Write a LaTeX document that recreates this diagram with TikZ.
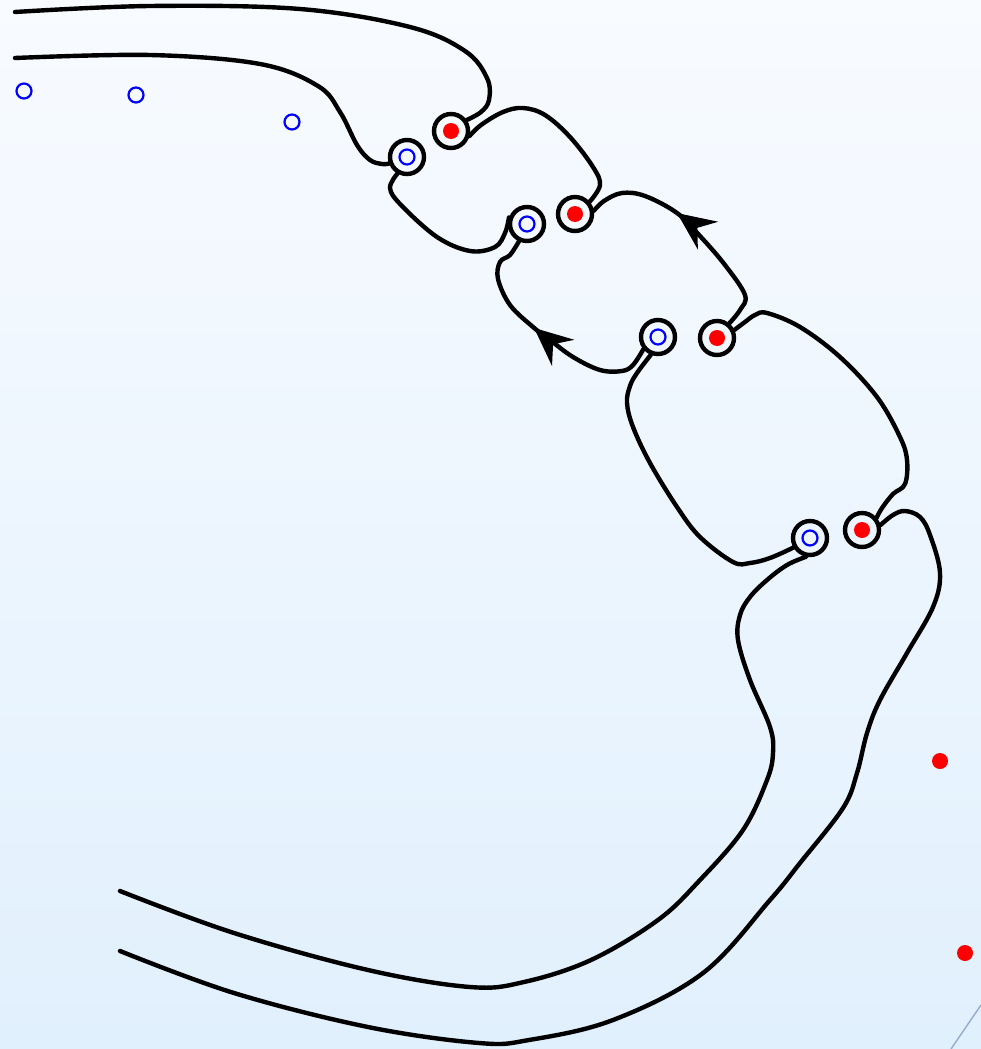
\documentclass[tikz,border=0pt]{standalone}
\usepackage{tikz}
\usetikzlibrary{arrows.meta, decorations.markings}
\definecolor{bgtop}{RGB}{248,251,255}
\definecolor{bgbottom}{RGB}{225,240,253}
\definecolor{edgeline}{RGB}{150,172,204}

\begin{document}
\begin{tikzpicture}[
    x=1pt, y=-1pt,
    wire/.style={draw=black, line width=4.4pt, line cap=round, line join=round},
    ringnode/.style={circle, draw=black, line width=4.4pt, minimum size=34pt, inner sep=0pt},
    bluedot/.style={circle, draw=blue, line width=2.2pt, minimum size=15pt, inner sep=0pt},
    reddot/.style={circle, fill=red, minimum size=16pt, inner sep=0pt},
    flow/.style={postaction={decorate}, decoration={markings,
        mark=at position #1 with {\arrow{Stealth[length=38pt, width=34pt, inset=13pt]}}}},
]

% Background
\useasboundingbox (0,0) rectangle (981,1049);
\shade[top color=bgtop, bottom color=bgbottom] (0,0) rectangle (981,1049);
\coordinate (e1) at (981,1005);
\coordinate (e2) at (951,1049);
\draw[edgeline, line width=1.4pt] (e1) -- (e2);

% Rings
\node[ringnode] (rr1) at (451,131) {};
\node[ringnode] (rr2) at (575,214) {};
\node[ringnode] (rr3) at (717,338) {};
\node[ringnode] (rr4) at (862,530) {};
\node[ringnode] (rb1) at (407,157) {};
\node[ringnode] (rb2) at (527,224) {};
\node[ringnode] (rb3) at (658,337) {};
\node[ringnode] (rb4) at (810,538) {};

% Charges
\node[reddot] (r1) at (rr1) {};
\node[reddot] (r2) at (rr2) {};
\node[reddot] (r3) at (rr3) {};
\node[reddot] (r4) at (rr4) {};
\node[reddot] (r5) at (940,761) {};
\node[reddot] (r6) at (965,953) {};
\node[bluedot] (b1) at (rb1) {};
\node[bluedot] (b2) at (rb2) {};
\node[bluedot] (b3) at (rb3) {};
\node[bluedot] (b4) at (rb4) {};
\node[bluedot] (b5) at (24,91) {};
\node[bluedot] (b6) at (136,95) {};
\node[bluedot] (b7) at (292,122) {};

% Free ends
\coordinate (topa) at (15,12);
\coordinate (topb) at (15,58);
\coordinate (bota) at (120,891);
\coordinate (botb) at (120,951);

% Wires
\draw[wire] plot[smooth, tension=0.6] coordinates {(topa) (150,6) (300,9) (410,27) (465,51) (487,78) (489,100) (481,112) (rr1.35)};
\draw[wire] plot[smooth, tension=0.6] coordinates {(topb) (150,55) (260,64) (318,86) (340,112) (357,145) (370,160) (382,164) (rb1.200)};
\draw[wire] plot[smooth, tension=0.6] coordinates {(rr1.-15) (481,125) (503,112) (523,108) (545,115) (570,137) (593,167) (600,185) (rr2.40)};
\draw[wire] plot[smooth, tension=0.6] coordinates {(rb1.240) (390,188) (401,205) (437,237) (470,251) (495,247) (505,233) (rb2.160)};
\draw[wire, flow=0.6] plot[smooth, tension=0.6] coordinates {(rr3.50) (740,310) (745,295) (725,265) (700,236) (677,213) (645,196) (622,193) (604,201) (rr2.10)};
\draw[wire, flow=0.55] plot[smooth, tension=0.6] coordinates {(rb3.220) (633,365) (622,371) (600,370) (573,357) (550,340) (533,327) (510,305) (498,279) (500,262) (510,255) (rb2.245)};
\draw[wire] plot[smooth, tension=0.6] coordinates {(rr3.25) (745,322) (755,315) (767,313) (800,327) (840,357) (877,397) (900,437) (907,460) (905,484) (893,494) (882,508) (rr4.40)};
\draw[wire] plot[smooth, tension=0.6] coordinates {(rb3.248) (637,373) (630,386) (627,403) (633,427) (650,463) (677,507) (700,537) (733,562) (750,563) (770,558) (rb4.210)};
\draw[wire] plot[smooth, tension=0.6] coordinates {(rr4.15) (893,515) (905,511) (920,517) (930,535) (940,573) (933,607) (907,653) (880,700) (867,733) (857,773) (843,808) (800,863) (770,900) (703,973) (613,1020) (529,1040) (479,1043) (368,1027) (234,993) (botb)};
\draw[wire] plot[smooth, tension=0.6] coordinates {(rb4.258) (787,565) (767,580) (750,597) (740,615) (738,640) (750,680) (770,727) (773,753) (767,780) (743,830) (700,880) (658,920) (591,960) (524,982) (470,987) (368,970) (234,933) (bota)};

\end{tikzpicture}
\end{document}
